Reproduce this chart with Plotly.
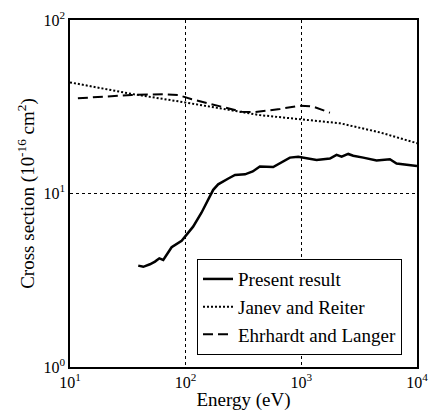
import plotly.graph_objects as go

present_E = [38.9, 43.0, 49.1, 54.3, 59.2, 64.0, 75.6, 86.3, 92.3, 116, 137, 173, 191, 234, 267, 326, 380,
             438, 571, 796, 940, 1355, 1766, 2017, 2230, 2543, 2810, 3430, 4470, 5830, 6660, 10000]
present_s = [3.84, 3.78, 3.91, 4.05, 4.23, 4.14, 4.90, 5.20, 5.34, 6.44, 7.75, 10.5, 11.3, 12.2, 12.8, 12.9, 13.4,
             14.3, 14.2, 16.1, 16.3, 15.6, 15.9, 16.7, 16.3, 16.9, 16.5, 16.1, 15.5, 15.75, 14.9, 14.4]

janev_E = [10, 18.2, 34.1, 98.6, 305, 439, 973, 2158, 4780, 7120, 10000]
janev_s = [43.7, 40.6, 37.5, 33.5, 29.6, 28.3, 26.8, 25.4, 22.5, 20.8, 19.5]

ehr_E = [11.7, 34.1, 66.2, 85.7, 113, 179, 305, 384, 653, 973, 1268, 1766]
ehr_s = [35.4, 37.0, 37.3, 37.0, 34.9, 32.4, 29.6, 29.4, 30.7, 32.1, 31.7, 29.2]

x_ticks = [10, 100, 1000, 10000]
x_ticktext = ["10<sup>1</sup>", "10<sup>2</sup>", "10<sup>3</sup>", "10<sup>4</sup>"]
y_ticks = [1, 10, 100]
y_ticktext = ["10<sup>0</sup>", "10<sup>1</sup>", "10<sup>2</sup>"]

FAM = "'Liberation Serif', 'Times New Roman', Times, serif"

fig = go.Figure()
fig.add_trace(go.Scatter(x=present_E, y=present_s, mode="lines", name="Present result",
                         line=dict(color="black", width=2.5)))
fig.add_trace(go.Scatter(x=janev_E, y=janev_s, mode="lines", name="Janev and Reiter",
                         line=dict(color="black", width=2, dash="2px,2px")))
fig.add_trace(go.Scatter(x=ehr_E, y=ehr_s, mode="lines", name="Ehrhardt and Langer",
                         line=dict(color="black", width=2, dash="10px,5px")))

tickfont = dict(family=FAM, size=16, color="black")
titlefont = dict(family=FAM, size=19, color="black")
axis_common = dict(showline=True, linecolor="black", linewidth=1.5, mirror=True,
                   showgrid=True, gridcolor="black", gridwidth=0.8, griddash="dot",
                   zeroline=False, ticks="", tickfont=tickfont)

fig.update_layout(
    width=430, height=411,
    margin=dict(l=70, r=13, t=20, b=44, autoexpand=False),
    plot_bgcolor="white", paper_bgcolor="white",
    font=dict(family=FAM, size=16, color="black"),
    showlegend=True,
    legend=dict(x=0.366, y=0.311, xanchor="left", yanchor="top",
                bordercolor="black", borderwidth=1, bgcolor="white",
                font=dict(family=FAM, size=19, color="black"),
                tracegroupgap=0, itemwidth=30),
    xaxis=dict(type="log", range=[1, 4], tickvals=x_ticks, ticktext=x_ticktext,
               title=dict(text="Energy (eV)", font=titlefont, standoff=0), **axis_common),
    yaxis=dict(type="log", range=[0, 2], tickvals=y_ticks, ticktext=y_ticktext,
               title=dict(text="Cross section (10<sup>-16</sup> cm<sup>2</sup>)", font=titlefont, standoff=4),
               **axis_common),
)

fig.write_html("out.html")
